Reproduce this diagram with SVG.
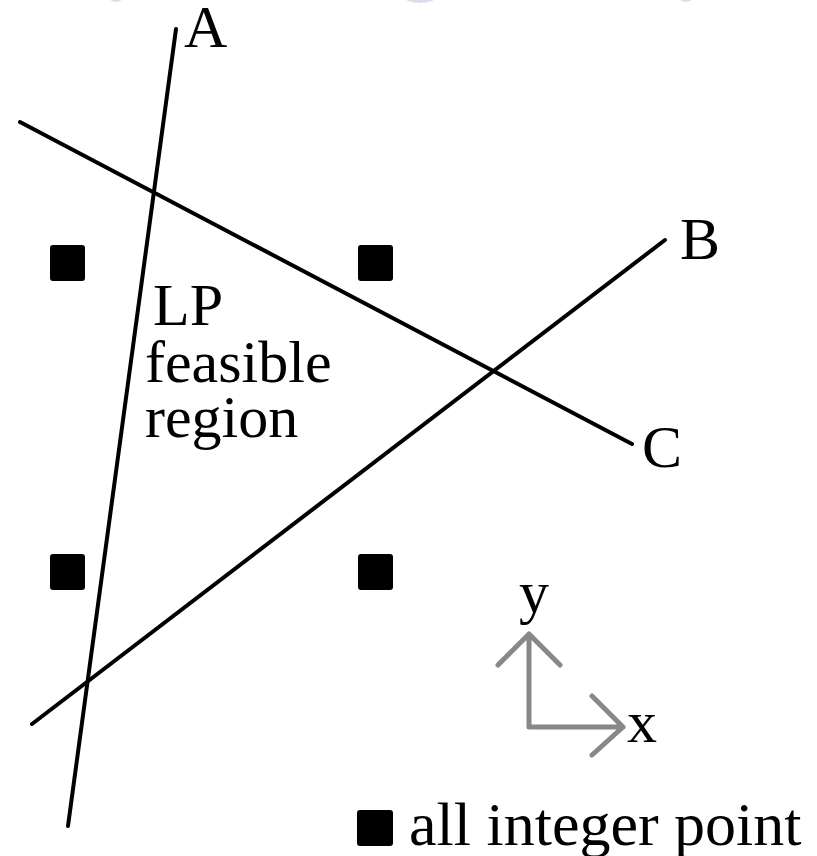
<svg xmlns="http://www.w3.org/2000/svg" width="817" height="856" viewBox="0 0 817 856">
<style>
.ln{stroke:#000;stroke-width:4;stroke-linecap:round;fill:none}
.ax{stroke:#888;stroke-width:5;stroke-linecap:round;stroke-linejoin:round;fill:none}
.t{font-family:"Liberation Serif","Times New Roman",serif;font-size:60px;fill:#000}
.pt{fill:#000}
.bg{fill:#dcdcf0}
</style>
<rect width="817" height="856" fill="#fff"/>
<g id="watermark">
<ellipse class="bg" cx="116" cy="-20" rx="14" ry="22"/>
<ellipse class="bg" cx="420" cy="-40" rx="40" ry="43"/>
<ellipse class="bg" cx="686" cy="-20" rx="14" ry="22"/>
</g>
<g id="connectors">
<line id="lineA" class="ln" x1="68" y1="826" x2="176" y2="29"/>
<line id="lineB" class="ln" x1="32" y1="724" x2="665" y2="240"/>
<line id="lineC" class="ln" x1="20" y1="122" x2="632" y2="444"/>
</g>
<g id="labelA"><text class="t" x="184" y="47">A</text></g>
<g id="labelB"><text class="t" x="680" y="259">B</text></g>
<g id="labelC"><text class="t" x="642" y="467">C</text></g>
<g id="region">
<text class="t" x="153" y="325">LP</text>
<text class="t" x="145" y="382">feasible</text>
<text class="t" x="145" y="437">region</text>
</g>
<g id="points">
<rect class="pt" x="50" y="245" width="35" height="36" rx="3"/>
<rect class="pt" x="358" y="245" width="35" height="36" rx="3"/>
<rect class="pt" x="50" y="554" width="35" height="36" rx="3"/>
<rect class="pt" x="358" y="554" width="35" height="36" rx="3"/>
</g>
<g id="axes">
<path class="ax" d="M529,727 V634 M498,665 L529,634 L560,665 M529,727 H623 M592,696 L623,727 L592,755"/>
<text class="t" x="519" y="612">y</text>
<text class="t" x="627" y="742">x</text>
</g>
<g id="legend">
<rect class="pt" x="357" y="810" width="36" height="36" rx="3"/>
<text class="t" x="409" y="845" style="font-size:62px">all integer point</text>
</g>
</svg>
